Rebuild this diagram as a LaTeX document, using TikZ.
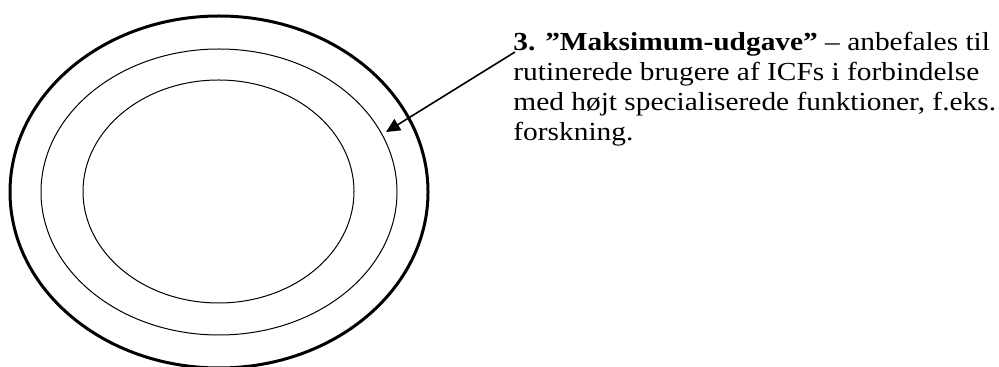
\documentclass[tikz,border=0pt]{standalone}
\usepackage{fontspec}
\setmainfont{Liberation Serif}
\usetikzlibrary{shapes.geometric,arrows.meta,positioning}

\begin{document}
\begin{tikzpicture}[x=0.5pt, y=-0.5pt]
% Define styles
\tikzstyle{ring} = [ellipse, draw, inner sep=0pt, line width=0.5pt]
\tikzstyle{outerring} = [ring, line width=1.5pt]
\tikzstyle{callout} = [align=left, inner sep=0pt, anchor=base west, xscale=1.13, font=\fontsize{13pt}{15pt}\selectfont]
\tikzstyle{arrow} = [line width=0.8pt, -{Triangle[length=7pt, width=6.5pt]}]

\useasboundingbox (0,0) rectangle (999,367);

% Rings
\node[outerring, minimum width=209pt, minimum height=176pt] (outer) at (219,192) {};
\node[ring, minimum width=178pt, minimum height=143pt] (middle) at (219,192) {};
\node[ring, minimum width=135.5pt, minimum height=111.5pt] (inner) at (218.5,191.5) {};

% Text (anchored on the baseline of its last line)
\node[callout] (maks) at (513,141) {\textbf{3. ”Maksimum-udgave”} – anbefales til\\
rutinerede brugere af ICFs i forbindelse\\
med højt specialiserede funktioner, f.eks.\\
forskning.};

% Arrow
\coordinate (start) at (515,52);
\coordinate (tip) at (386,132);
\draw[arrow] (start) -- (tip);

\end{tikzpicture}
\end{document}
